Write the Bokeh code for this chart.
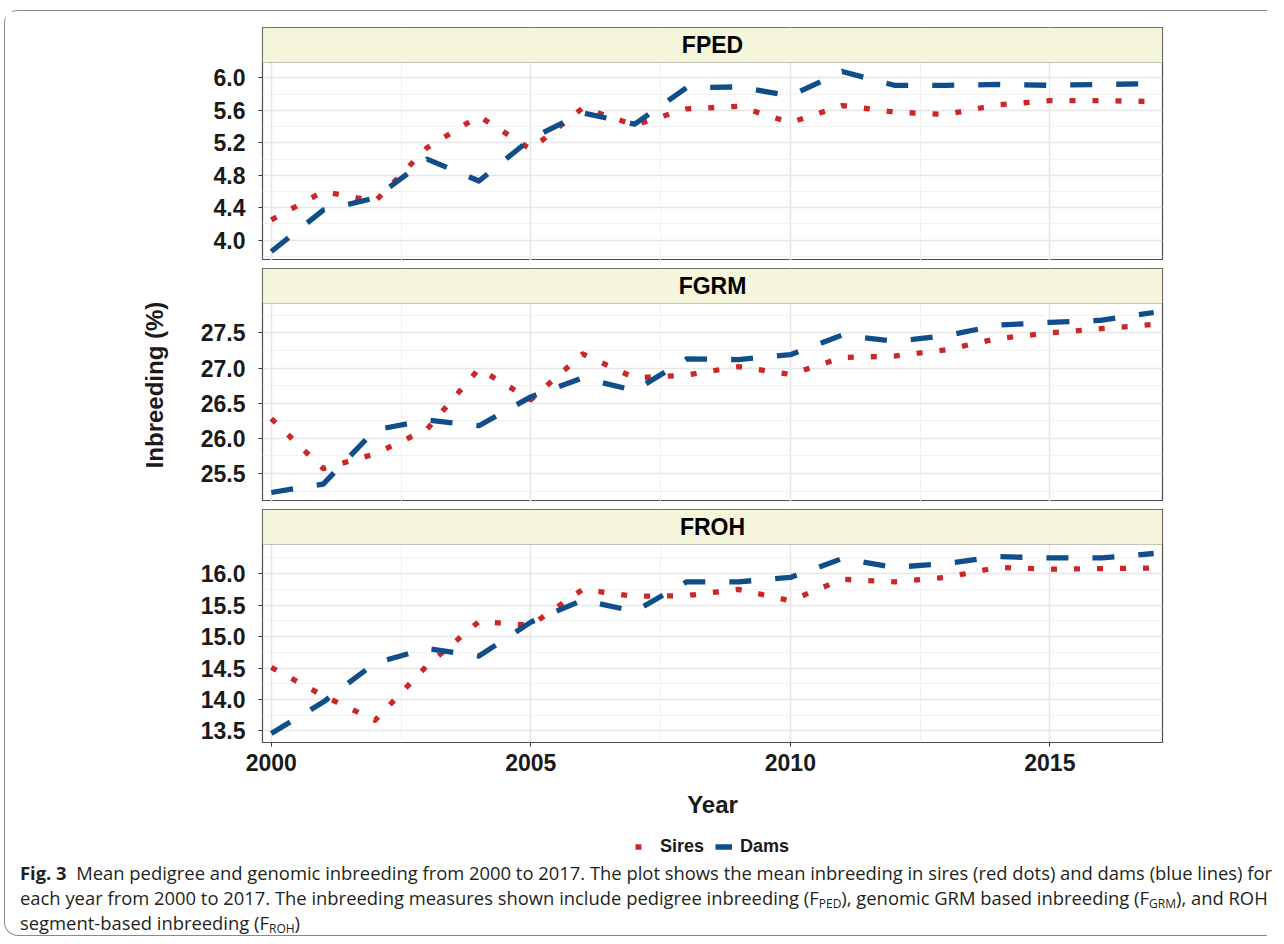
from bokeh.plotting import figure
from bokeh.models import (Range1d, FixedTicker, BoxAnnotation, Label, Legend,
                          LegendItem, PrintfTickFormatter, Div)
from bokeh.layouts import column
from bokeh.embed import file_html
from bokeh.resources import INLINE

# ---------------- data ----------------
years = [2000, 2001, 2002, 2003, 2004, 2005, 2006, 2007, 2008,
         2009, 2010, 2011, 2012, 2013, 2014, 2015, 2016, 2017]

fped_sires = [4.25, 4.60, 4.48, 5.14, 5.53, 5.12, 5.63, 5.42, 5.62,
              5.65, 5.45, 5.66, 5.58, 5.55, 5.67, 5.72, 5.72, 5.71]
fped_dams = [3.86, 4.37, 4.52, 5.00, 4.73, 5.25, 5.57, 5.43, 5.88,
             5.89, 5.78, 6.08, 5.91, 5.91, 5.92, 5.91, 5.92, 5.93]

fgrm_sires = [26.28, 25.57, 25.78, 26.13, 26.99, 26.55, 27.20, 26.86, 26.90,
              27.02, 26.91, 27.15, 27.17, 27.26, 27.42, 27.50, 27.56, 27.62]
fgrm_dams = [25.23, 25.35, 26.12, 26.26, 26.18, 26.59, 26.86, 26.68, 27.13,
             27.12, 27.19, 27.47, 27.38, 27.46, 27.61, 27.65, 27.68, 27.79]

froh_sires = [14.51, 14.06, 13.67, 14.54, 15.24, 15.18, 15.75, 15.64, 15.65,
              15.75, 15.57, 15.91, 15.87, 15.94, 16.10, 16.07, 16.08, 16.09]
froh_dams = [13.46, 13.96, 14.58, 14.81, 14.69, 15.23, 15.58, 15.40, 15.87,
             15.87, 15.94, 16.24, 16.10, 16.16, 16.27, 16.25, 16.25, 16.32]

panel_names = ["FPED", "FGRM", "FROH"]
series_names = ["Sires", "Dams"]

fped_ticks = [4.0, 4.4, 4.8, 5.2, 5.6, 6.0]
fped_minor = [3.8, 4.2, 4.6, 5.0, 5.4, 5.8, 6.2]
fgrm_ticks = [25.5, 26.0, 26.5, 27.0, 27.5]
fgrm_minor = [25.25, 25.75, 26.25, 26.75, 27.25, 27.75]
froh_ticks = [13.5, 14.0, 14.5, 15.0, 15.5, 16.0]
froh_minor = [13.75, 14.25, 14.75, 15.25, 15.75, 16.25]
year_ticks = [2000, 2005, 2010, 2015]
year_minor = [2002.5, 2007.5, 2012.5]

# ---------------- style ----------------
FONT = "Liberation Sans"
SIRE_COLOR = "#CD2626"
DAM_COLOR = "#104E8B"
STRIP_FILL = "#F5F5DC"
BORDER = "#4D4D4D"
TEXT = "#1A1A1A"
SIRE_DASH = "6 17"
DAM_DASH = "22 24"
LINE_W = 5.3

FRAME_W = 900
DATA_H = 198
STRIP_H = 35
FRAME_H = DATA_H + STRIP_H
LEFT = 257

x_span = years[-1] - years[0]
x_range = Range1d(years[0] - 0.01 * x_span, years[-1] + 0.01 * x_span)


def style_text_axis(ax):
    ax.axis_line_color = None
    ax.major_tick_in = 0
    ax.major_tick_out = 4
    ax.major_tick_line_color = "#333333"
    ax.minor_tick_line_color = None
    ax.major_label_text_font = FONT
    ax.major_label_text_font_style = "bold"
    ax.major_label_text_font_size = "23px"
    ax.major_label_text_color = TEXT
    ax.axis_label_text_font = FONT
    ax.axis_label_text_font_style = "bold"
    ax.axis_label_text_font_size = "24px"
    ax.axis_label_text_color = TEXT


def make_panel(name, sires, dams, ticks, minor, top, bottom=False, ylabel=None):
    lo = min(sires + dams)
    hi = max(sires + dams)
    span = hi - lo
    y0 = lo - 0.05 * span
    y1 = hi + 0.05 * span
    strip_span = (y1 - y0) * STRIP_H / DATA_H

    p = figure(frame_width=FRAME_W, frame_height=FRAME_H,
               x_range=x_range, y_range=Range1d(y0, y1 + strip_span),
               output_backend="svg", toolbar_location=None,
               x_axis_location="below" if bottom else None,
               min_border_left=LEFT, min_border_right=20,
               min_border_top=top, min_border_bottom=0,
               background_fill_color="white", border_fill_color="white")
    p.margin = (0, 0, 0, 0)
    p.outline_line_color = BORDER
    p.outline_line_width = 1.2

    p.xgrid.ticker = FixedTicker(ticks=year_ticks, minor_ticks=year_minor)
    p.ygrid.ticker = FixedTicker(ticks=ticks, minor_ticks=minor)
    for g in (p.xgrid, p.ygrid):
        g.grid_line_color = "#E6E6E6"
        g.grid_line_width = 1.6
        g.minor_grid_line_color = "#F1F1F1"
        g.minor_grid_line_width = 1

    ya = p.yaxis[0]
    ya.ticker = FixedTicker(ticks=ticks, minor_ticks=minor)
    ya.formatter = PrintfTickFormatter(format="%.1f")
    style_text_axis(ya)
    ya.major_label_standoff = 13
    if ylabel:
        ya.axis_label = ylabel
        ya.axis_label_standoff = 30

    if bottom:
        xa = p.xaxis[0]
        xa.ticker = FixedTicker(ticks=year_ticks, minor_ticks=year_minor)
        xa.formatter = PrintfTickFormatter(format="%d")
        style_text_axis(xa)
        xa.major_label_standoff = 7
        xa.axis_label = "Year"
        xa.axis_label_standoff = 17

    p.line(years, sires, line_color=SIRE_COLOR, line_width=LINE_W,
           line_dash=SIRE_DASH, line_cap="butt", line_join="round")
    p.line(years, dams, line_color=DAM_COLOR, line_width=LINE_W,
           line_dash=DAM_DASH, line_cap="butt", line_join="round")

    # facet strip
    p.add_layout(BoxAnnotation(bottom=y1, fill_color=STRIP_FILL, fill_alpha=1,
                               line_color=BORDER, line_width=1.2))
    p.add_layout(Label(x=(x_range.start + x_range.end) / 2,
                       y=y1 + strip_span / 2, text=name,
                       text_align="center", text_baseline="middle",
                       text_font=FONT, text_font_style="bold",
                       text_font_size="23px", text_color="black"))
    return p


p1 = make_panel(panel_names[0], fped_sires, fped_dams, fped_ticks, fped_minor, top=16)
p2 = make_panel(panel_names[1], fgrm_sires, fgrm_dams, fgrm_ticks, fgrm_minor, top=8,
                ylabel="Inbreeding (%)")
p3 = make_panel(panel_names[2], froh_sires, froh_dams, froh_ticks, froh_minor, top=8,
                bottom=True)

# ---------------- legend strip (series drawn outside the visible range) -------
pl = figure(frame_width=FRAME_W, frame_height=28, output_backend="svg",
            x_range=x_range, y_range=Range1d(0, 1),
            toolbar_location=None, x_axis_location=None, y_axis_location=None,
            min_border_left=LEFT, min_border_right=20, min_border_top=12,
            min_border_bottom=0, outline_line_color=None,
            background_fill_color="white", border_fill_color="white")
pl.margin = (0, 0, 0, 0)
pl.grid.visible = False
ls = pl.line(years, froh_sires, line_color=SIRE_COLOR, line_width=LINE_W,
             line_dash=SIRE_DASH, line_cap="butt")
ld = pl.line(years, froh_dams, line_color=DAM_COLOR, line_width=LINE_W,
             line_dash=DAM_DASH, line_cap="butt")
legend = Legend(items=[LegendItem(label=series_names[0], renderers=[ls]),
                       LegendItem(label=series_names[1], renderers=[ld])],
                orientation="horizontal", location="center",
                glyph_width=17, glyph_height=20, label_height=20,
                label_standoff=8, spacing=11, padding=0, margin=0,
                border_line_color=None, background_fill_alpha=0,
                label_text_font=FONT, label_text_font_style="bold",
                label_text_font_size="18px", label_text_color=TEXT)
pl.add_layout(legend)

# ---------------- caption ----------------
sub = '<sub style="font-size:12px; line-height:0; vertical-align:-3px;">%s</sub>'
caption_html = (
    '<div style="padding-left:15px; '
    'font-family:\'Open Sans\', sans-serif; font-size:18.4px; line-height:25px; '
    'color:#231F20; white-space:nowrap;">'
    '<b>Fig. 3</b>&nbsp; Mean pedigree and genomic inbreeding from 2000 to 2017. '
    'The plot shows the mean inbreeding in sires (red dots) and dams (blue lines) for<br>'
    'each year from 2000 to 2017. The inbreeding measures shown include pedigree '
    'inbreeding (F' + sub % "PED" + '), genomic GRM based inbreeding (F' + sub % "GRM" +
    '), and ROH<br>'
    'segment-based inbreeding (F' + sub % "ROH" + ')'
    '</div>'
)
caption = Div(text=caption_html, width=1262, height=75, margin=(0, 0, 0, 0))

layout = column(p1, p2, p3, pl, caption, spacing=0, margin=(10, 0, 0, 4),
                styles={"border-top": "1.5px solid #8A8A8A",
                        "border-left": "1.5px solid #8A8A8A",
                        "border-bottom": "1.5px solid #8A8A8A",
                        "border-top-left-radius": "14px",
                        "border-bottom-left-radius": "14px"})

with open("out.html", "w") as f:
    f.write(file_html(layout, INLINE))
